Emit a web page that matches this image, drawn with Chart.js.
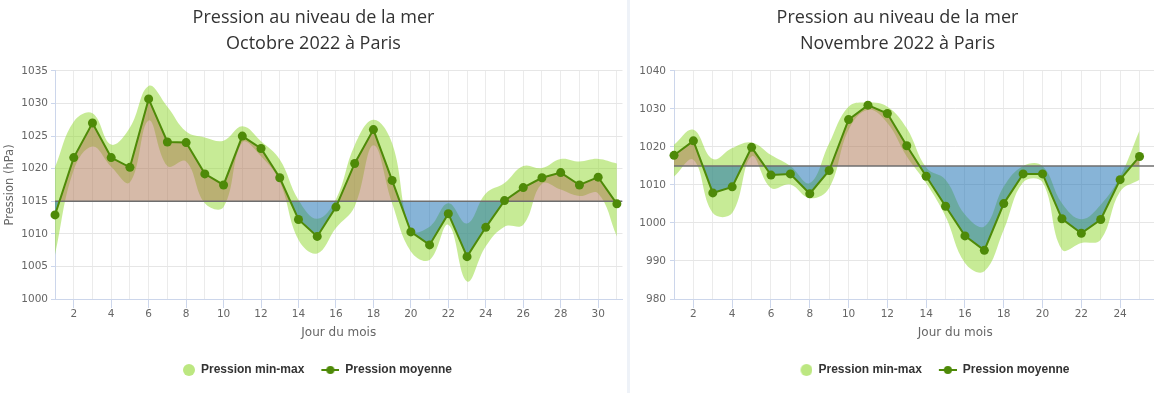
<!DOCTYPE html>
<html>
<head>
<meta charset="utf-8">
<title>Pression au niveau de la mer</title>
<script src="https://cdn.jsdelivr.net/npm/chart.js@4.4.0/dist/chart.umd.min.js"></script>
<style>
  body { margin: 0; width: 1154px; height: 393px; overflow: hidden; position: relative; background: #eef2f8; }
  .box { position: absolute; top: 0; height: 393px; background: #fff; }
  .box canvas { display: block; }
  #boxOct { left: 0; width: 627px; }
  #boxNov { left: 630px; width: 611px; }
</style>
</head>
<body>
<div class="box" id="boxOct"><canvas id="chartOct" width="627" height="393"></canvas></div>
<div class="box" id="boxNov"><canvas id="chartNov" width="611" height="393"></canvas></div>
<script>
// ===============================================================================
// 1. Data (hPa, read from the daily readings)
// ===============================================================================
var joursOct = [1, 2, 3, 4, 5, 6, 7, 8, 9, 10, 11, 12, 13, 14, 15, 16, 17, 18, 19, 20,
                21, 22, 23, 24, 25, 26, 27, 28, 29, 30, 31];
var moyOct = [1012.9, 1021.7, 1027.0, 1021.7, 1020.2, 1030.7, 1024.1, 1024.0, 1019.2, 1017.5,
              1025.0, 1023.1, 1018.6, 1012.2, 1009.6, 1014.1, 1020.8, 1026.0, 1018.2, 1010.3,
              1008.3, 1013.1, 1006.5, 1011.0, 1015.1, 1017.1, 1018.6, 1019.4, 1017.5, 1018.7, 1014.6];
var minOct = [1006.8, 1019.8, 1023.4, 1020.3, 1017.9, 1027.4, 1020.4, 1021.1, 1014.7, 1014.1,
              1024.0, 1021.9, 1018.0, 1009.1, 1007.0, 1010.9, 1014.2, 1023.6, 1014.7, 1007.3,
              1006.0, 1011.4, 1002.7, 1008.1, 1011.1, 1011.4, 1017.7, 1016.8, 1015.8, 1016.2, 1009.6];
var maxOct = [1020.2, 1027.2, 1028.5, 1023.7, 1026.3, 1032.7, 1029.5, 1025.7, 1024.8, 1024.3,
              1026.5, 1024.2, 1021.4, 1015.2, 1012.3, 1015.3, 1023.6, 1027.5, 1023.9, 1010.6,
              1011.1, 1014.7, 1011.6, 1016.2, 1017.8, 1020.4, 1020.1, 1021.5, 1021.1, 1021.5, 1020.8];

var joursNov = [1, 2, 3, 4, 5, 6, 7, 8, 9, 10, 11, 12, 13, 14, 15, 16, 17, 18, 19, 20,
                21, 22, 23, 24, 25];
var moyNov = [1017.8, 1021.6, 1007.9, 1009.5, 1019.9, 1012.6, 1012.9, 1007.7, 1013.8, 1027.2,
              1031.0, 1028.8, 1020.3, 1012.3, 1004.4, 996.6, 992.8, 1005.1, 1012.9, 1012.9,
              1001.1, 997.3, 1000.9, 1011.4, 1017.5];
var minNov = [1012.2, 1016.6, 1002.6, 1002.6, 1017.5, 1009.2, 1010.1, 1006.5, 1009.2, 1024.5,
              1029.8, 1026.3, 1017.5, 1010.5, 1001.7, 989.5, 987.3, 998.2, 1010.7, 1010.7,
              993.0, 994.7, 995.6, 1008.3, 1011.4];
var maxNov = [1020.6, 1024.5, 1016.8, 1019.7, 1021.2, 1017.9, 1015.0, 1010.5, 1021.0, 1030.6,
              1031.7, 1030.6, 1024.9, 1014.6, 1011.4, 1002.2, 999.1, 1009.6, 1015.0, 1015.0,
              1005.2, 1001.0, 1004.8, 1012.2, 1024.3];

var seuil = 1015;   // reference line (mean sea level pressure)

var couleurMoy = 'rgb(78, 138, 8)';
var couleurBande = 'rgba(144, 215, 45, 0.5)';
var couleurDessus = 'rgba(173, 117, 81, 0.5)';
var couleurDessous = 'rgba(15, 105, 175, 0.5)';

Chart.defaults.font.family = '"DejaVu Sans", sans-serif';
Chart.defaults.color = '#666';

// ===============================================================================
// 2. Helpers
// ===============================================================================
function points(jours, valeurs) {
  var pts = [];
  for (var i = 0; i < valeurs.length; i++) {
    pts.push({x: jours[i], y: valeurs[i]});
  }
  return pts;
}

function legendSymbol(kind) {
  var c = document.createElement('canvas');
  c.width = 20; c.height = 12;
  var g = c.getContext('2d');
  if (kind === 'area') {
    g.fillStyle = 'rgba(144, 215, 45, 0.6)';
    g.beginPath(); g.arc(14, 6, 6, 0, Math.PI * 2); g.fill();
  } else {
    g.strokeStyle = couleurMoy; g.lineWidth = 2;
    g.beginPath(); g.moveTo(2, 6); g.lineTo(20, 6); g.stroke();
    g.fillStyle = couleurMoy;
    g.beginPath(); g.arc(11, 6, 4, 0, Math.PI * 2); g.fill();
  }
  return c;
}
var symArea = legendSymbol('area');
var symLine = legendSymbol('line');

// moves title / legend boxes sideways after layout
var decalagePlugin = {
  id: 'decalage',
  afterLayout: function(chart, args, opts) {
    if (opts.titre) { chart.titleBlock.left += opts.titre; chart.titleBlock.right += opts.titre; }
    if (opts.legende) { chart.legend.left += opts.legende; chart.legend.right += opts.legende; }
  }
};

// ===============================================================================
// 3. Chart
// ===============================================================================
function plotPression(canvasId, mois, jours, moy, min, max, cfg) {
  var datasets = [
    { label: 'Pression moyenne', data: points(jours, moy), borderColor: couleurMoy, borderWidth: 2,
      pointRadius: 4.5, pointHoverRadius: 4.5, pointBackgroundColor: couleurMoy, pointBorderColor: couleurMoy,
      pointBorderWidth: 0, tension: 0, fill: false, clip: false },
    { label: 'seuil', data: [{x: 1, y: seuil}, {x: cfg.xMax, y: seuil}], borderColor: '#6e6e6e',
      borderWidth: 1.5, pointRadius: 0, fill: false },
    { label: 'ecart', data: points(jours, moy), borderColor: 'transparent', borderWidth: 0, pointRadius: 0,
      tension: 0, fill: { target: { value: seuil }, above: couleurDessus, below: couleurDessous } },
    { label: 'Pression min-max', data: points(jours, max), borderColor: 'transparent', borderWidth: 0,
      pointRadius: 0, tension: 0.4, backgroundColor: couleurBande, fill: '+1' },
    { label: 'min', data: points(jours, min), borderColor: 'transparent', borderWidth: 0,
      pointRadius: 0, tension: 0.4, fill: false }
  ];

  new Chart(document.getElementById(canvasId), {
    type: 'line',
    data: { datasets: datasets },
    plugins: [decalagePlugin],
    options: {
      responsive: false,
      animation: false,
      events: [],
      layout: { padding: { left: 0, right: cfg.padRight, top: 0, bottom: 7 } },
      scales: {
        x: {
          type: 'linear', min: 1, max: cfg.xMax,
          afterBuildTicks: function(axis) {
            axis.ticks = jours.map(function(j) { return {value: j}; });
          },
          afterFit: function(scale) { scale.height = 50; },
          border: { color: '#ccd6eb' },
          grid: {
            color: '#ebebeb', tickLength: 9,
            tickColor: function(ctx) { return ctx.tick && ctx.tick.value % 2 === 0 ? '#ccd6eb' : 'transparent'; }
          },
          ticks: {
            autoSkip: false, maxRotation: 0, padding: 0, font: { size: 10.5 },
            callback: function(v) { return v % 2 === 0 ? String(v) : ''; }
          },
          title: { display: true, text: 'Jour du mois', font: { size: 12 }, padding: { top: 0, bottom: 9 } }
        },
        y: {
          min: cfg.yMin, max: cfg.yMax,
          afterFit: function(scale) { scale.width = cfg.yWidth; },
          border: { color: '#ccd6eb' },
          grid: { color: '#e6e6e6', tickColor: '#ccd6eb', tickLength: 4 },
          ticks: { stepSize: cfg.yStep, padding: cfg.yPad, font: { size: 10.5 },
                   callback: function(v) { return String(v); } },
          title: { display: cfg.yTitle, text: 'Pression (hPa)', font: { size: 11.5 }, padding: { top: 3, bottom: 0 } }
        }
      },
      plugins: {
        decalage: cfg.decalage || {},
        title: {
          display: true,
          text: ['Pression au niveau de la mer', mois],
          color: '#333',
          font: { family: '"Open Sans", sans-serif', size: 18, weight: 'normal', lineHeight: 1.47 },
          padding: { top: 4.5, bottom: 13.5 }
        },
        legend: {
          position: 'bottom',
          labels: {
            usePointStyle: true, pointStyleWidth: 20, padding: 15, color: '#333',
            font: { family: '"Liberation Sans", sans-serif', size: 12, weight: 'bold' },
            generateLabels: function() {
              return [
                { text: 'Pression min-max', pointStyle: symArea, fillStyle: couleurBande, fontColor: '#333',
                  strokeStyle: 'transparent', lineWidth: 0, hidden: false, datasetIndex: 3 },
                { text: 'Pression moyenne', pointStyle: symLine, fillStyle: couleurMoy, fontColor: '#333',
                  strokeStyle: 'transparent', lineWidth: 0, hidden: false, datasetIndex: 0 }
              ];
            }
          }
        },
        tooltip: { enabled: false }
      }
    }
  });
}

plotPression('chartOct', 'Octobre 2022 à Paris', joursOct, moyOct, minOct, maxOct,
  { xMax: 31.3, padRight: 0, yMin: 1000, yMax: 1035, yStep: 5, yWidth: 55, yPad: 3, yTitle: true });

plotPression('chartNov', 'Novembre 2022 à Paris', joursNov, moyNov, minNov, maxNov,
  { xMax: 30, padRight: 0, yMin: 980, yMax: 1040, yStep: 10, yWidth: 44, yPad: 4, yTitle: false,
    decalage: { titre: -38, legende: -4.5 } });
</script>
</body>
</html>
